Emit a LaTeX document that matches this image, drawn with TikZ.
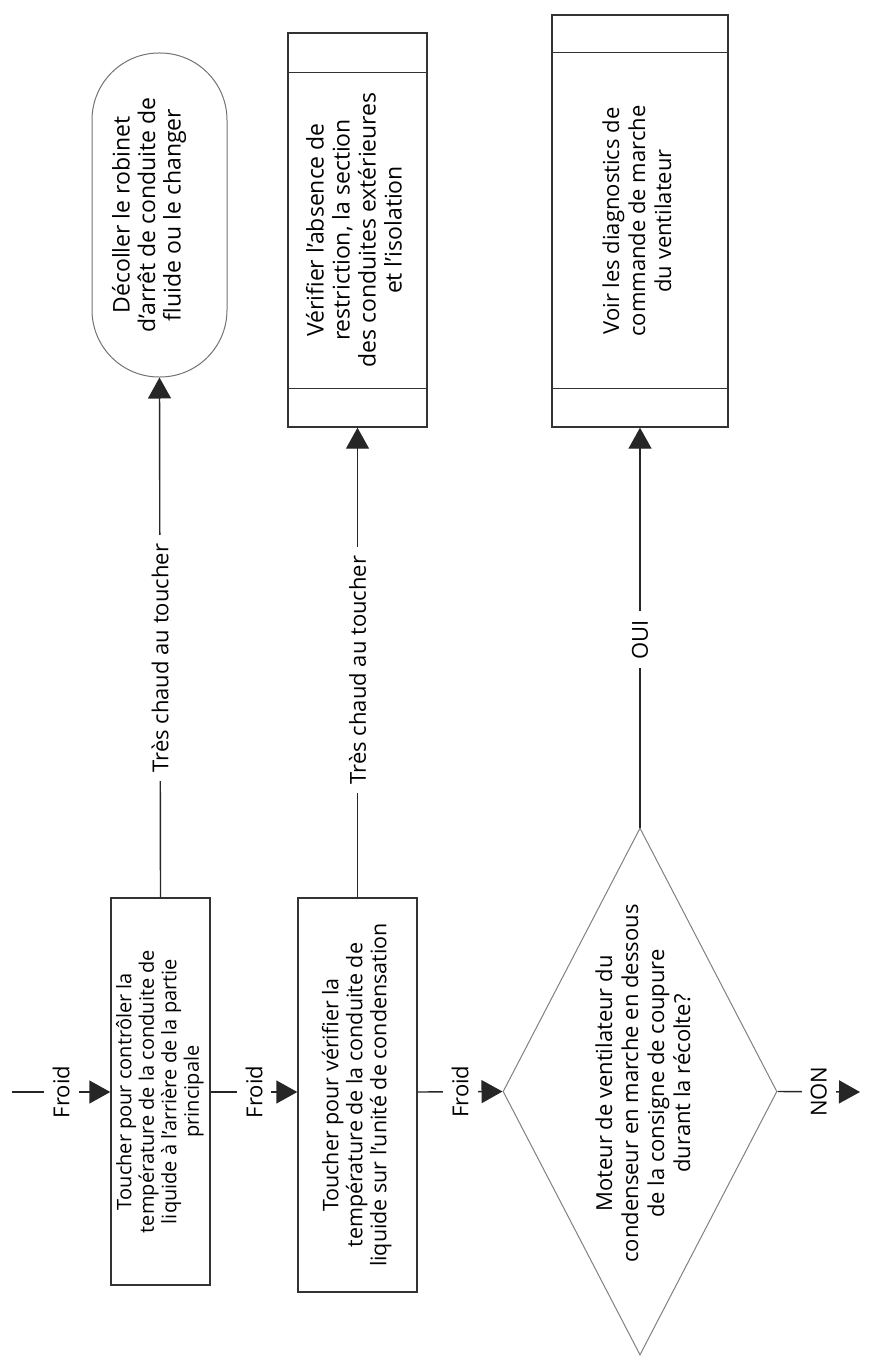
\documentclass[tikz,border=0pt]{standalone}
\usepackage{fontspec}
\usepackage{graphicx}
\setmainfont{Open Sans}
\usetikzlibrary{arrows.meta,shapes.geometric,calc}
\newcommand{\fsz}[2]{\fontsize{#1}{#2}\selectfont}
\begin{document}
\begin{tikzpicture}[x=1pt,y=-1pt,
  every node/.style={font=\fsz{22}{26}, text=black},
  procbox/.style={draw=black!80, line width=1.4pt, inner sep=0pt, align=center},
  termbox/.style={draw=black!55, line width=1pt, rounded corners=67pt, inner sep=0pt},
  decbox/.style={diamond, draw=black!50, line width=1pt, inner sep=0pt, shape aspect=0.52},
  conn/.style={draw=black!85, line width=1.4pt},
  arr/.style={conn, -{Triangle[length=21pt,width=23pt]}},
  lab/.style={fill=white, inner sep=9pt}
]
\useasboundingbox (0,0) rectangle (882,1359);

% process boxes
\node[procbox, minimum width=99pt, minimum height=387pt, font=\fsz{20}{22.5}] (b1) at (160.5,1091.5)
  {\rotatebox{90}{\begin{tabular}{@{}c@{}}Toucher pour contrôler la\\température de la conduite de\\liquide à l’arrière de la partie\\principale\end{tabular}}};
\node[procbox, minimum width=119pt, minimum height=394pt, font=\fsz{21.5}{24}] (b2) at (357.5,1095)
  {\rotatebox{90}{\begin{tabular}{@{}c@{}}Toucher pour vérifier la\\température de la conduite de\\liquide sur l’unité de condensation\end{tabular}}};

% terminal
\node[termbox, minimum width=135pt, minimum height=324pt] (t1) at (159.5,215) {};
\node[font=\fsz{23}{25.5}] (t1t) at (150,215)
  {\rotatebox{90}{\begin{tabular}{@{}c@{}}Décoller le robinet\\d’arrêt de conduite de\\fluide ou le changer\end{tabular}}};

% predefined processes
\node[procbox, minimum width=139pt, minimum height=394pt, font=\fsz{23}{26}] (p2) at (357.5,230)
  {\rotatebox{90}{\begin{tabular}{@{}c@{}}Vérifier l’absence de\\restriction, la section\\des conduites extérieures\\et l’isolation\end{tabular}}};
\draw[procbox] ($(p2.north west)+(0,40)$) -- ($(p2.north east)+(0,40)$);
\draw[procbox] ($(p2.south west)+(0,-39)$) -- ($(p2.south east)+(0,-39)$);

\node[procbox, minimum width=176pt, minimum height=412pt] (p3) at (640,221)
  {\rotatebox{90}{\begin{tabular}{@{}c@{}}Voir les diagnostics de\\commande de marche\\du ventilateur\end{tabular}}};
\draw[procbox] ($(p3.north west)+(0,38)$) -- ($(p3.north east)+(0,38)$);
\draw[procbox] ($(p3.south west)+(0,-39)$) -- ($(p3.south east)+(0,-39)$);

% decision
\node[decbox, minimum width=274pt, minimum height=527pt] (d1) at (640,1091.5) {};
\node (d1t) at ($(d1.center)+(6,-8)$)
  {\rotatebox{90}{\begin{tabular}{@{}c@{}}Moteur de ventilateur du\\condenseur en marche en dessous\\de la consigne de coupure\\durant la récolte?\end{tabular}}};

% free ends
\coordinate (start) at (12,1092);
\coordinate (nonend) at (860,1092);

% connectors
\draw[arr] (start) -- node[lab, pos=0.5] {\rotatebox{90}{Froid}} (start -| b1.west);
\draw[arr] (b1.east |- 0,1092) -- node[lab, pos=0.5] {\rotatebox{90}{Froid}} (b2.west |- 0,1092);
\draw[arr] (b2.east |- 0,1092) -- node[lab, pos=0.5] {\rotatebox{90}{Froid}} (d1.west);
\draw[arr] (b1.north) -- node[lab, pos=0.46] {\rotatebox{90}{Très chaud au toucher}} (t1.south);
\draw[arr] (b2.north) -- node[lab, pos=0.484] {\rotatebox{90}{Très chaud au toucher}} (p2.south);
\draw[arr] (d1.north) -- node[lab, pos=0.47] {\rotatebox{90}{OUI}} (p3.south);
\draw[arr] (d1.east) -- node[lab, pos=0.5] {\rotatebox{90}{NON}} (nonend);
\end{tikzpicture}
\end{document}
